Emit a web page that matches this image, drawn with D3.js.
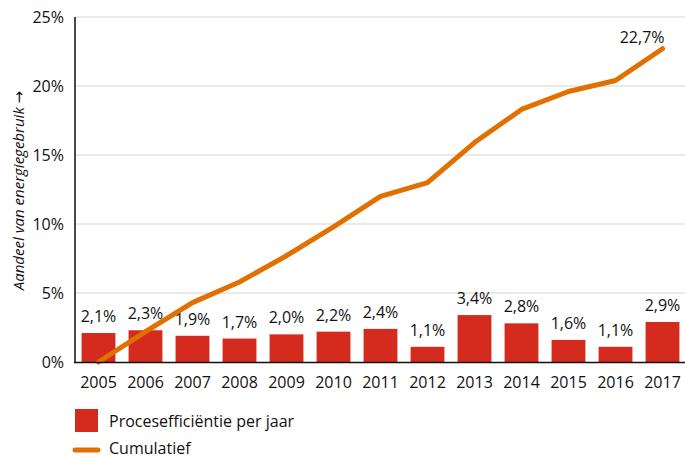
<!DOCTYPE html>
<html>
<head>
<meta charset="utf-8">
<script src="https://cdn.jsdelivr.net/npm/d3@7"></script>
<style>
  body { margin: 0; background: #fff; }
  svg { font-family: "Open Sans", "Noto Sans", sans-serif; }
  .tick-label { font-size: 16px; fill: #111; }
  .value-label { font-size: 16px; fill: #111; text-anchor: middle; }
  .legend-text { font-size: 16px; fill: #111; }
</style>
</head>
<body>
<svg id="chart" width="685" height="458"></svg>
<script>
// ── Data ──
const years = ["2005", "2006", "2007", "2008", "2009", "2010", "2011", "2012", "2013", "2014", "2015", "2016", "2017"];
const perYear = [2.1, 2.3, 1.9, 1.7, 2.0, 2.2, 2.4, 1.1, 3.4, 2.8, 1.6, 1.1, 2.9];
const cumulative = [0, 2.2, 4.3, 5.8, 7.7, 9.8, 12.0, 13.0, 15.9, 18.3, 19.6, 20.4, 22.7];
const yTicks = [0, 5, 10, 15, 20, 25];
const legendLabels = ["Procesefficiëntie per jaar", "Cumulatief"];

const barColor = "#d52b1e";
const lineColor = "#e17000";
const fmt = v => v.toFixed(1).replace(".", ",") + "%";

// ── Dimensions ──
const plot = { left: 75, right: 686, top: 17, bottom: 362 };

const svg = d3.select("#chart");

const x = d3.scaleBand()
  .domain(years)
  .range([plot.left, plot.right])
  .paddingInner(0.28)
  .paddingOuter(0.14);

const y = d3.scaleLinear()
  .domain([0, 25])
  .range([plot.bottom, plot.top]);

// ── Gridlines ──
svg.selectAll(".grid")
  .data(yTicks.filter(d => d > 0))
  .join("line")
  .attr("class", "grid")
  .attr("x1", plot.left)
  .attr("x2", plot.right)
  .attr("y1", d => y(d))
  .attr("y2", d => y(d))
  .attr("stroke", "#d4d4d4")
  .attr("stroke-width", 1);

// ── Y tick labels ──
svg.selectAll(".y-label")
  .data(yTicks)
  .join("text")
  .attr("class", "tick-label")
  .attr("x", plot.left - 11)
  .attr("y", d => y(d))
  .attr("dy", "0.35em")
  .attr("text-anchor", "end")
  .text(d => d + "%");

// ── Y axis title (arrow from DejaVu, Open Sans has none) ──
const yTitle = svg.append("text")
  .attr("transform", `translate(24,${(plot.top + plot.bottom) / 2 + 1}) rotate(-90)`)
  .attr("text-anchor", "middle")
  .attr("font-size", 15)
  .attr("fill", "#111");

yTitle.append("tspan")
  .attr("font-style", "italic")
  .text("Aandeel van energiegebruik ");

yTitle.append("tspan")
  .attr("font-family", "DejaVu Sans")
  .text("→");

// ── Bars ──
svg.selectAll(".bar")
  .data(years)
  .join("rect")
  .attr("class", "bar")
  .attr("x", d => x(d))
  .attr("width", x.bandwidth())
  .attr("y", (d, i) => y(perYear[i]))
  .attr("height", (d, i) => plot.bottom - y(perYear[i]))
  .attr("fill", barColor);

// ── Bar value labels ──
svg.selectAll(".value-label")
  .data(years)
  .join("text")
  .attr("class", "value-label")
  .attr("x", d => x(d) + x.bandwidth() / 2)
  .attr("y", (d, i) => y(perYear[i]) - 11)
  .text((d, i) => fmt(perYear[i]));

// ── Cumulative line ──
const line = d3.line()
  .x((d, i) => x(years[i]) + x.bandwidth() / 2)
  .y(d => y(d));

svg.append("path")
  .datum(cumulative)
  .attr("d", line)
  .attr("fill", "none")
  .attr("stroke", lineColor)
  .attr("stroke-width", 5)
  .attr("stroke-linecap", "round")
  .attr("stroke-linejoin", "round");

// last value label
const last = cumulative.length - 1;
svg.append("text")
  .attr("class", "value-label")
  .style("text-anchor", "end")
  .attr("x", x(years[last]) + x.bandwidth() / 2 + 2)
  .attr("y", y(cumulative[last]) - 6)
  .text(fmt(cumulative[last]));

// ── Axes lines ──
svg.append("line")
  .attr("x1", plot.left)
  .attr("x2", plot.left)
  .attr("y1", plot.top)
  .attr("y2", plot.bottom)
  .attr("stroke", "#4a4a4a")
  .attr("stroke-width", 2);

svg.append("line")
  .attr("x1", plot.left - 1)
  .attr("x2", plot.right)
  .attr("y1", plot.bottom + 0.5)
  .attr("y2", plot.bottom + 0.5)
  .attr("stroke", "#111")
  .attr("stroke-width", 1.5);

// ── X labels ──
svg.selectAll(".x-label")
  .data(years)
  .join("text")
  .attr("class", "tick-label")
  .attr("x", d => x(d) + x.bandwidth() / 2)
  .attr("y", 388)
  .attr("text-anchor", "middle")
  .text(d => d);

// ── Legend ──
svg.append("rect")
  .attr("x", 75)
  .attr("y", 409)
  .attr("width", 23)
  .attr("height", 23)
  .attr("fill", barColor);

svg.append("text")
  .attr("class", "legend-text")
  .attr("x", 109)
  .attr("y", 421)
  .attr("dy", "0.35em")
  .text(legendLabels[0]);

svg.append("line")
  .attr("x1", 75)
  .attr("x2", 98)
  .attr("y1", 450)
  .attr("y2", 450)
  .attr("stroke", lineColor)
  .attr("stroke-width", 5)
  .attr("stroke-linecap", "round");

svg.append("text")
  .attr("class", "legend-text")
  .attr("x", 109)
  .attr("y", 448)
  .attr("dy", "0.35em")
  .text(legendLabels[1]);
</script>
</body>
</html>
